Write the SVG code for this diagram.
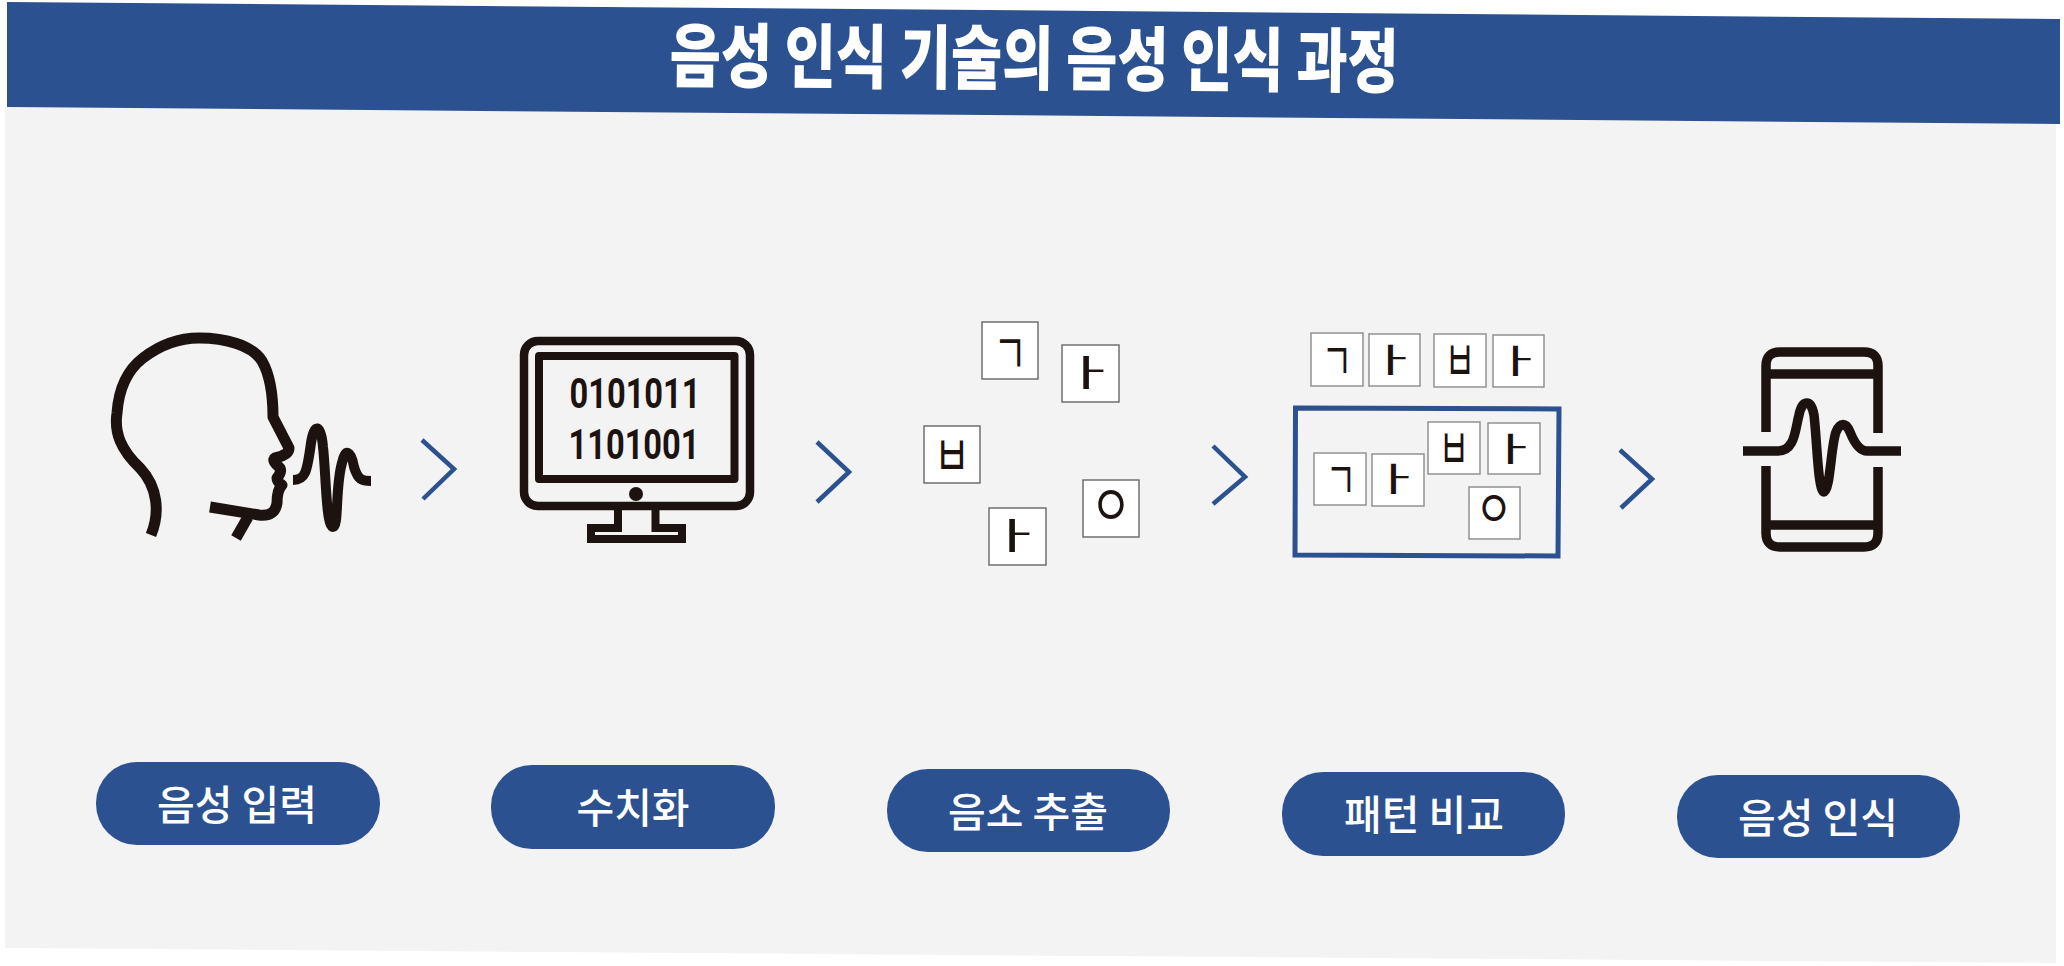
<svg xmlns="http://www.w3.org/2000/svg" width="2064" height="966" viewBox="0 0 2064 966">
<style>
text{font-family:"Noto Sans CJK KR","Noto Sans",sans-serif}
.pill{fill:#2c5190}
.lab{fill:#fff;font-size:41px;font-weight:500;text-anchor:middle}
.ink{fill:none;stroke:#1c1311;stroke-linejoin:round}
.chev{fill:none;stroke:#2c5190;stroke-width:4.5}
.tile{fill:#fff;stroke:#666;stroke-width:1.4}
.tile2{fill:#fff;stroke:#8a8a8a;stroke-width:1.4}
.jamo{fill:#1c1311;font-size:30px;text-anchor:middle}
text.num{fill:#1c1311;font-size:43px;font-weight:700;text-anchor:middle;font-family:Roboto,sans-serif}
</style>
<rect width="2064" height="966" fill="#fff"/>
<polygon points="5,107 2056,124 2056,963 5,948" fill="#f3f3f3"/>
<g id="banner">
<polygon points="7,2 2060,19 2060,124 7,107" fill="#2c5190"/>
<text x="0" y="0" fill="#fff" font-size="56" font-weight="900" text-anchor="middle" textLength="729" lengthAdjust="spacingAndGlyphs" transform="translate(1034,84) rotate(0.45) scale(1,1.25)">음성 인식 기술의 음성 인식 과정</text>
</g>
<g id="connectors">
<path class="chev" d="M422,440L454,469L423,499"/>
<path class="chev" d="M817,442L849,472L817,502"/>
<path class="chev" d="M1213,446L1245,477L1213,504"/>
<path class="chev" d="M1620,450L1652,479L1621,508"/>
</g>
<g id="node-voice-input">
<g class="ink">
<path stroke-width="11" d="M151,535C160,513 158,487 140,468C121,450 114,433 117,413C119,385 130,368 143,358C160,345 180,338 199,338C225,338 252,345 262,361C270,375 273,395 273,417L289,448Q289,455 275,458Q271,460 280,468Q282,472 277,478Q277,482 282,485Q277,490 277,503Q275,517 259,515L210,507"/>
<path stroke-width="11" d="M248,517L236,538"/>
<path stroke-width="10" d="M293,480C305,480 307,473 311,443C314,423 321,423 323,447C326,473 326,527 333,527C339,527 335,487 342,463C345,448 351,450 354,467C358,480 362,481 371,481"/>
</g>
<rect class="pill" x="96" y="762" width="284" height="83" rx="41"/>
<text class="lab" x="237" y="820">음성 입력</text>
</g>
<g id="node-digitize">
<rect class="ink" stroke-width="8.500" x="524" y="341" width="226" height="165" rx="14"/>
<rect class="ink" stroke-width="8" x="539" y="356" width="195.500" height="123"/>
<circle cx="636" cy="494" r="7" fill="#1c1311"/>
<path fill="none" stroke="#1c1311" stroke-width="8" d="M618,509V528H591V539H682V528H655.500V509"/>
<text class="num" x="635" y="408" textLength="131" lengthAdjust="spacingAndGlyphs">0101011</text>
<text class="num" x="634" y="459" textLength="131" lengthAdjust="spacingAndGlyphs">1101001</text>
<rect class="pill" x="491" y="765" width="284" height="84" rx="41"/>
<text class="lab" x="633" y="823">수치화</text>
</g>
<g id="node-phoneme">
<rect class="tile" x="982" y="322" width="56" height="57"/><text class="jamo" transform="translate(1010,374) scale(1.2,1.9)">ㄱ</text>
<rect class="tile" x="1062" y="345" width="57" height="57"/><text class="jamo" transform="translate(1088,386) scale(2.3,1.2)">ㅏ</text>
<rect class="tile" x="924" y="426" width="56" height="57"/><text class="jamo" transform="translate(952,476) scale(1.3,1.9)">ㅂ</text>
<rect class="tile" x="1083" y="480" width="56" height="57"/><text class="jamo" transform="translate(1111,525.500) scale(1.5,1.9)">ㅇ</text>
<rect class="tile" x="989" y="508" width="57" height="57"/><text class="jamo" transform="translate(1014,549) scale(2.3,1.2)">ㅏ</text>
<rect class="pill" x="887" y="769" width="283" height="83" rx="41"/>
<text class="lab" x="1028" y="827">음소 추출</text>
</g>
<g id="node-pattern">
<rect class="tile2" x="1311" y="333" width="52" height="53"/><text class="jamo" transform="translate(1337,380) scale(1.1,1.75)">ㄱ</text>
<rect class="tile2" x="1369" y="334" width="51" height="52"/><text class="jamo" transform="translate(1392,372) scale(2,1.08)">ㅏ</text>
<rect class="tile2" x="1434" y="334" width="52" height="53"/><text class="jamo" transform="translate(1460,381) scale(1.1,1.9)">ㅂ</text>
<rect class="tile2" x="1493" y="335" width="51" height="52"/><text class="jamo" transform="translate(1517,373) scale(2,1.08)">ㅏ</text>
<polygon points="1295.500,408 1559,409 1558,556 1295,555" fill="none" stroke="#2c5190" stroke-width="5"/>
<rect class="tile2" x="1314" y="453" width="52" height="52"/><text class="jamo" transform="translate(1341,499) scale(1.1,1.75)">ㄱ</text>
<rect class="tile2" x="1372" y="454" width="52" height="52"/><text class="jamo" transform="translate(1395,491) scale(2,1.08)">ㅏ</text>
<rect class="tile2" x="1428" y="422" width="52" height="52"/><text class="jamo" transform="translate(1454,469) scale(1.1,1.9)">ㅂ</text>
<rect class="tile2" x="1488" y="423" width="52" height="51"/><text class="jamo" transform="translate(1512,461) scale(2,1.08)">ㅏ</text>
<rect class="tile2" x="1469" y="487" width="51" height="52"/><text class="jamo" transform="translate(1494,528) scale(1.35,1.75)">ㅇ</text>
<rect class="pill" x="1282" y="772" width="283" height="84" rx="41"/>
<text class="lab" x="1424" y="830">패턴 비교</text>
</g>
<g id="node-recognized">
<g class="ink" stroke-width="9.500">
<path d="M1766,432V366Q1766,352 1780,352H1864Q1878,352 1878,366V433M1766,374H1878"/>
<path d="M1766,466V533Q1766,547 1780,547H1864Q1878,547 1878,533V467M1766,525H1878"/>
<path d="M1743,451H1778C1795,451 1795,430 1799,415C1802,400 1811,398 1814,415C1817,440 1818,492 1824,492C1830,492 1831,445 1836,432C1840,422 1846,422 1850,432C1854,442 1860,451 1867,451H1901"/>
</g>
<rect class="pill" x="1677" y="775" width="283" height="83" rx="41"/>
<text class="lab" x="1818" y="833">음성 인식</text>
</g>
</svg>
